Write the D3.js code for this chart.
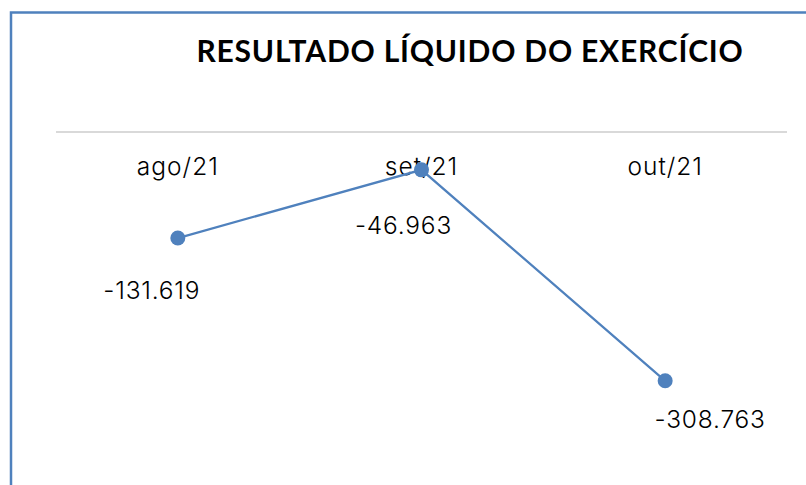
<!DOCTYPE html>
<html>
<head>
<meta charset="utf-8">
<script src="https://cdn.jsdelivr.net/npm/d3@7"></script>
<style>
  html, body { margin: 0; padding: 0; background: #fff; }
  svg { display: block; }
</style>
</head>
<body>
<svg id="chart" width="806" height="485"></svg>
<script>
const title = "RESULTADO LÍQUIDO DO EXERCÍCIO";
const categories = ["ago/21", "set/21", "out/21"];
const values = [-131619, -46963, -308763];
const valueLabels = ["-131.619", "-46.963", "-308.763"];

const W = 806, H = 485;
const svg = d3.select("#chart");
const font = "Inter, Lato, 'Noto Sans', sans-serif";
const titleFont = "Lato, 'Noto Sans', sans-serif";

// frame
svg.append("rect")
  .attr("x", 11).attr("y", 12.5)
  .attr("width", 900).attr("height", 600)
  .attr("fill", "none").attr("stroke", "#4f81bd").attr("stroke-width", 2.5);

const plot = { left: 56, right: 787, top: 132, bottom: 414 };

const x = d3.scaleBand().domain(categories).range([plot.left, plot.right]);
const y = d3.scaleLinear().domain([-350000, 0]).range([plot.bottom, plot.top]);

// zero gridline
svg.append("line")
  .attr("x1", plot.left).attr("x2", plot.right)
  .attr("y1", y(0)).attr("y2", y(0))
  .attr("stroke", "#d9d9d9").attr("stroke-width", 2);

// category labels (axis at top)
const axis = d3.axisTop(x).tickSize(0).tickPadding(0);
const ag = svg.append("g").attr("transform", `translate(0,175)`).call(axis);
ag.select(".domain").remove();
ag.selectAll("text")
  .attr("dy", 0)
  .attr("font-family", font).attr("font-size", 24.5).attr("font-weight", 300)
  .attr("letter-spacing", "1px").attr("fill", "#000");

// title
svg.append("text")
  .attr("x", 470).attr("y", 62)
  .attr("text-anchor", "middle")
  .attr("font-family", titleFont).attr("font-weight", "bold").attr("font-size", 30)
  .attr("letter-spacing", "0.8px")
  .attr("fill", "#000")
  .text(title);

const cx = (d, i) => x(categories[i]) + x.bandwidth() / 2;

const line = d3.line()
  .x((d, i) => x(categories[i]) + x.bandwidth() / 2)
  .y(d => y(d));

svg.append("path")
  .datum(values)
  .attr("d", line)
  .attr("fill", "none").attr("stroke", "#4f81bd").attr("stroke-width", 2.25);

svg.selectAll("circle.pt")
  .data(values).enter().append("circle")
  .attr("class", "pt")
  .attr("cx", cx).attr("cy", d => y(d))
  .attr("r", 7.5).attr("fill", "#4f81bd");

// data labels (manually nudged as in the original)
const labelNudge = [[-26, 61], [-18, 64], [45, 47]];
svg.selectAll("text.lbl")
  .data(values).enter().append("text")
  .attr("class", "lbl")
  .attr("x", (d, i) => cx(d, i) + labelNudge[i][0])
  .attr("y", (d, i) => y(d) + labelNudge[i][1])
  .attr("text-anchor", "middle")
  .attr("font-family", font).attr("font-size", 24.5).attr("font-weight", 300)
  .attr("letter-spacing", "0.8px").attr("fill", "#000")
  .text((d, i) => valueLabels[i]);
</script>
</body>
</html>
